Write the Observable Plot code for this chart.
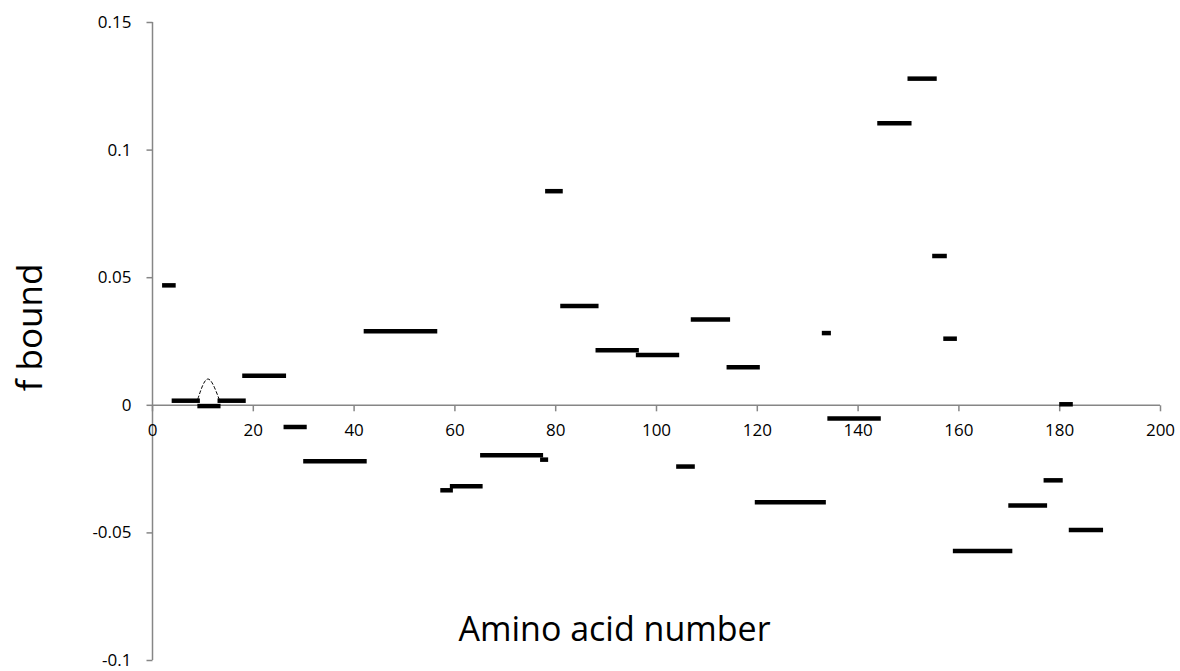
<!DOCTYPE html>
<html>
<head>
<meta charset="utf-8">
<script src="https://cdn.jsdelivr.net/npm/d3@7"></script>
<script src="https://cdn.jsdelivr.net/npm/@observablehq/plot@0.6"></script>
<style>
  html, body { margin: 0; padding: 0; background: #fff; }
  #chart svg { display: block; }
</style>
</head>
<body>
<div id="chart"></div>
<script>
// Segment start / end (amino acid number) and f bound value
const segStart = [2, 3.9, 9, 13, 17.9, 26.1, 30, 42, 57.2, 59.1, 65.1, 77, 78, 81, 88, 96, 104, 106.9, 114, 119.6, 132.9, 134, 143.9, 149.9, 154.8, 157, 158.9, 169.9, 176.9, 180, 181.9];
const segEnd   = [4.7, 9.5, 13.6, 18.6, 26.6, 30.7, 42.6, 56.6, 59.7, 65.6, 77.6, 78.6, 81.5, 88.6, 96.6, 104.6, 107.7, 114.7, 120.6, 133.7, 134.7, 144.6, 150.7, 155.7, 157.7, 159.7, 170.7, 177.6, 180.7, 182.7, 188.7];
const segValue = [0.047, 0.0018, -0.0003, 0.0018, 0.0116, -0.0085, -0.0219, 0.029, -0.0333, -0.0317, -0.0196, -0.0213, 0.0839, 0.0389, 0.0216, 0.0197, -0.024, 0.0336, 0.0149, -0.038, 0.0283, -0.0052, 0.1105, 0.128, 0.0585, 0.0261, -0.0571, -0.0393, -0.0294, 0.0004, -0.0489];

// Dashed arch connecting residues ~9-13
const arcX = [9, 11, 13.2];
const arcY = [0.0025, 0.0103, 0.0025];

const xTicks = [0, 20, 40, 60, 80, 100, 120, 140, 160, 180, 200];
const yTicks = [-0.1, -0.05, 0, 0.05, 0.1, 0.15];
const yTickLabels = ["-0.1", "-0.05", "0", "0.05", "0.1", "0.15"];

const xTitle = "Amino acid number";
const yTitle = "f bound";

const segments = segStart.map((s, i) => ({start: s, end: segEnd[i], value: segValue[i]}));
const arc = arcX.map((x, i) => ({x, y: arcY[i]}));

const AXIS = "#868686";
const FONT = "Open Sans, Lato, sans-serif";

const downTick = {draw(ctx) { ctx.moveTo(0, 0); ctx.lineTo(0, 6); }};
const leftTick = {draw(ctx) { ctx.moveTo(0, 0); ctx.lineTo(-6, 0); }};

const chart = Plot.plot({
  width: 1180,
  height: 671,
  marginLeft: 152,
  marginRight: 20,
  marginTop: 22,
  marginBottom: 11,
  style: {fontFamily: FONT, background: "#fff", color: "black"},
  x: {domain: [0, 200], axis: null},
  y: {domain: [-0.1, 0.15], axis: null},
  marks: [
    // axis lines
    Plot.ruleX([0], {stroke: AXIS, strokeWidth: 1.5}),
    Plot.ruleY([0], {stroke: AXIS, strokeWidth: 1.5}),
    // y ticks + labels
    Plot.dot(yTicks, {x: () => 0, y: d => d, symbol: leftTick, stroke: AXIS, strokeWidth: 1.5, fill: "none", r: 4}),
    Plot.text(yTicks, {x: () => 0, y: d => d, text: (d, i) => yTickLabels[i], textAnchor: "end", dx: -21, fontSize: 17, fill: "black"}),
    // x ticks + labels (crossing at y = 0)
    Plot.dot(xTicks, {x: d => d, y: () => 0, symbol: downTick, stroke: AXIS, strokeWidth: 1.5, fill: "none", r: 4}),
    Plot.text(xTicks, {x: d => d, y: () => 0, text: d => String(d), lineAnchor: "top", dy: 19, fontSize: 17, fill: "black"}),
    // dashed arch
    Plot.line(arc, {x: "x", y: "y", curve: "natural", stroke: "black", strokeWidth: 1, strokeDasharray: "3,2.5"}),
    // segments
    Plot.ruleY(segments, {y: "value", x1: "start", x2: "end", stroke: "black", strokeWidth: 4.5}),
    // axis titles
    Plot.text([xTitle], {frameAnchor: "bottom", text: d => d, dx: -42, dy: -30, fontSize: 34, fill: "black", textAnchor: "middle", lineAnchor: "middle"}),
    Plot.text([yTitle], {frameAnchor: "left", text: d => d, dx: -122, dy: -14, rotate: -90, fontSize: 35, fill: "black", textAnchor: "middle", lineAnchor: "middle"})
  ]
});

document.getElementById("chart").appendChild(chart);
</script>
</body>
</html>
